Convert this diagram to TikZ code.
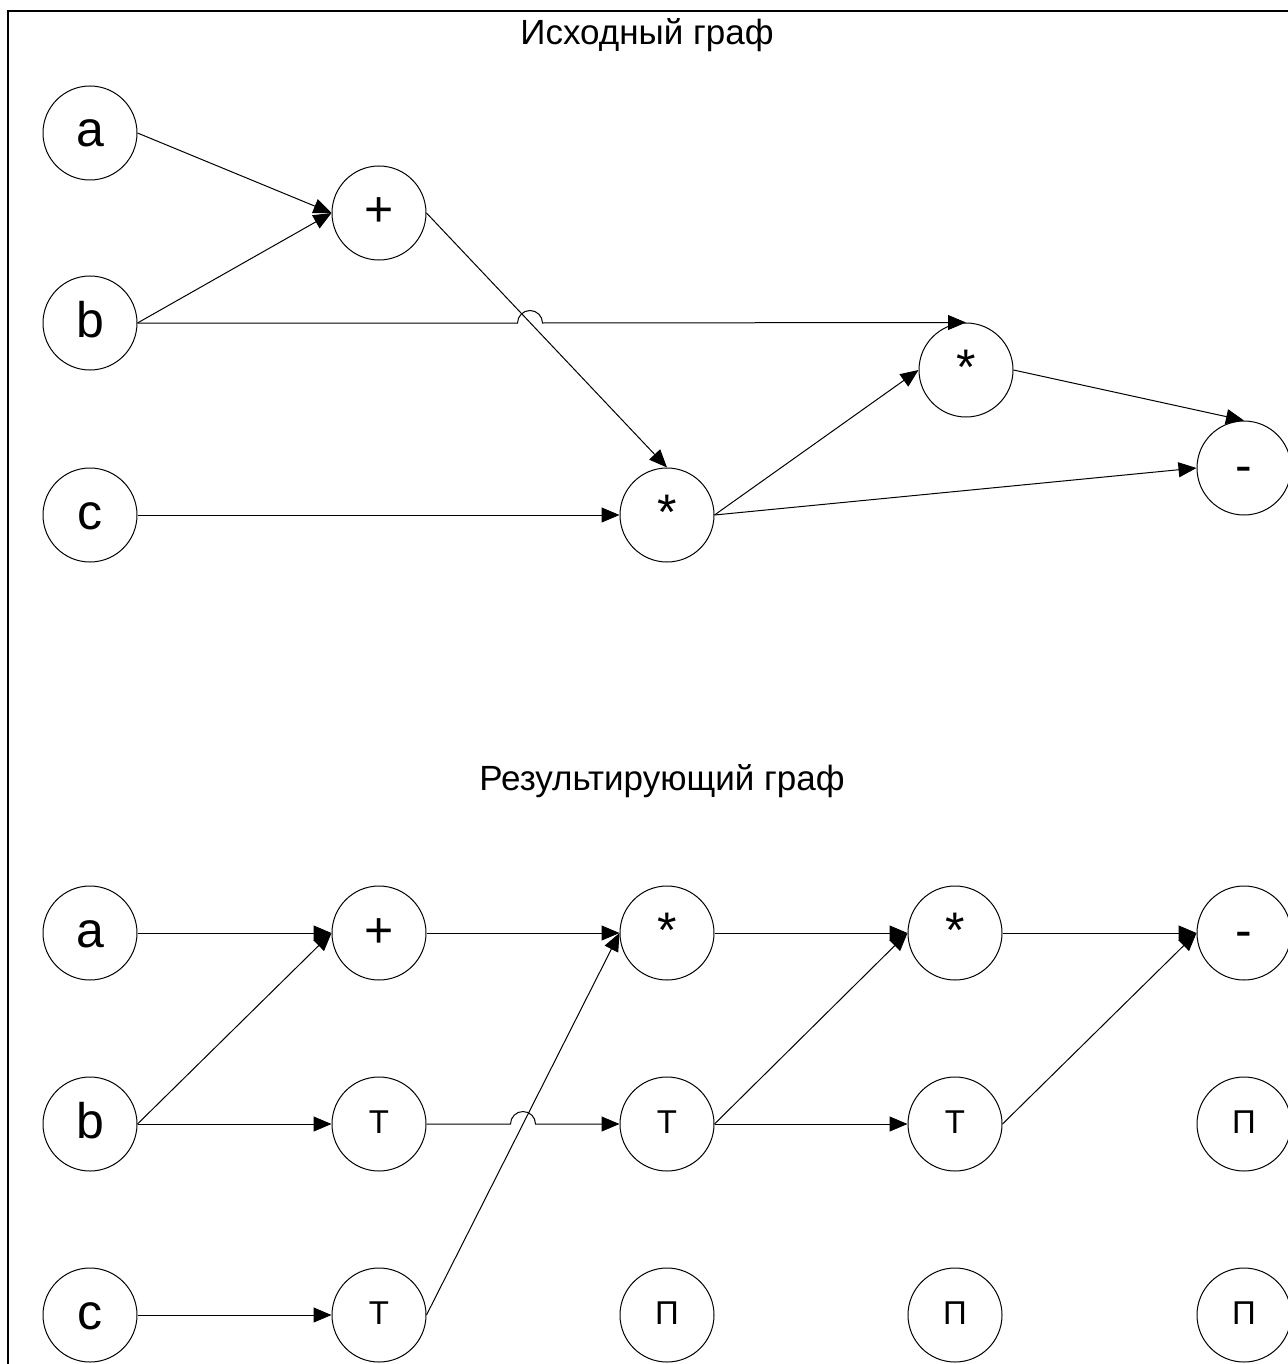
\documentclass[tikz,border=0pt]{standalone}
\usepackage{fontspec}
\setmainfont{Liberation Sans}
\usetikzlibrary{arrows.meta}
\begin{document}
\begin{tikzpicture}[x=1pt,y=1pt,
  vtx/.style={circle,draw,line width=1pt,minimum size=94pt,inner sep=0pt},
  big/.style={vtx,font=\fontsize{50}{58}\selectfont,text height=38pt,text depth=10pt},
  small/.style={vtx,font=\fontsize{33}{40}\selectfont,text height=25pt,text depth=6.6pt},
  edge/.style={draw,line width=1pt,-{Triangle[length=18pt,width=15pt]}},
  title/.style={anchor=base,font=\fontsize{35}{42}\selectfont,inner sep=0pt}]
\useasboundingbox (0,0) rectangle (1287,-1364);
\draw[line width=2pt] (7.5,-1380) -- (7.5,-11) -- (1300,-11);

% ---- top graph ----
\node[title] (t1) at (647,-45) {Исходный граф};
\node[big] (ta) at (90,-133) {a};
\node[big] (tb) at (90,-323) {b};
\node[big] (tc) at (90,-515) {c};
\node[big] (tp) at (379,-213) {+};
\node[big] (tm1) at (667,-515) {*};
\node[big] (tm2) at (966,-370) {*};
\node[big] (tmin) at (1244,-468) {-};

\draw[edge] (ta.east) -- (tp.west);
\draw[edge] (tb.east) -- (tp.west);
\draw[edge] (tp.east) -- (tm1.north);
\draw[edge] (tc.east) -- (tm1.west);
\draw[edge] (tm1.east) -- (tm2.west);
\draw[edge] (tm1.east) -- (tmin.west);
\draw[edge] (tm2.east) -- (tmin.north);
\coordinate (j1) at (530,-323);
\draw[edge] (tb.east) -- ([xshift=-12.5pt]j1) arc[start angle=180,end angle=0,radius=12.5pt] -- (tm2.north);

% ---- bottom graph ----
\node[title] (t2) at (662,-790) {Результирующий граф};
\node[big] (ba) at (90,-933) {a};
\node[big] (bb) at (90,-1124) {b};
\node[big] (bc) at (90,-1315) {c};
\node[big] (bp) at (379,-933) {+};
\node[small] (bt1) at (379,-1124) {Т};
\node[small] (bt2) at (379,-1315) {Т};
\node[big] (bm1) at (667,-933) {*};
\node[small] (bt3) at (667,-1124) {Т};
\node[small] (bq1) at (667,-1315) {П};
\node[big] (bm2) at (955,-933) {*};
\node[small] (bt4) at (955,-1124) {Т};
\node[small] (bq2) at (955,-1315) {П};
\node[big] (bmin) at (1244,-933) {-};
\node[small] (bq3) at (1244,-1124) {П};
\node[small] (bq4) at (1244,-1315) {П};

\draw[edge] (ba.east) -- (bp.west);
\draw[edge] (bb.east) -- (bp.west);
\draw[edge] (bb.east) -- (bt1.west);
\draw[edge] (bc.east) -- (bt2.west);
\draw[edge] (bp.east) -- (bm1.west);
\draw[edge] (bt2.east) -- (bm1.west);
\coordinate (j2) at (523,-1124);
\draw[edge] (bt1.east) -- ([xshift=-12.5pt]j2) arc[start angle=180,end angle=0,radius=12.5pt] -- (bt3.west);
\draw[edge] (bm1.east) -- (bm2.west);
\draw[edge] (bt3.east) -- (bm2.west);
\draw[edge] (bt3.east) -- (bt4.west);
\draw[edge] (bm2.east) -- (bmin.west);
\draw[edge] (bt4.east) -- (bmin.west);
\end{tikzpicture}
\end{document}
